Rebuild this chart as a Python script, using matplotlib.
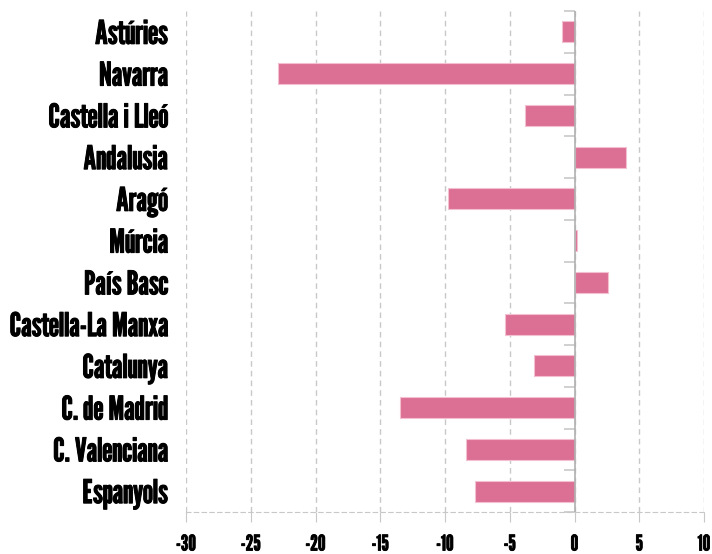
import matplotlib
matplotlib.use("Agg")
import matplotlib.pyplot as plt
from matplotlib import font_manager as fm
import matplotlib.patheffects as pe
import numpy as np

categories = ["Astúries", "Navarra", "Castella i Lleó", "Andalusia", "Aragó", "Múrcia",
              "País Basc", "Castella-La Manxa", "Catalunya", "C. de Madrid",
              "C. Valenciana", "Espanyols"]
values = [-1.0, -22.9, -3.8, 4.0, -9.8, 0.2, 2.6, -5.4, -3.1, -13.5, -8.4, -7.7]
xticks = [-30, -25, -20, -15, -10, -5, 0, 5, 10]

names = {f.name for f in fm.fontManager.ttflist}
fam = "DejaVu Sans"
for cand in ["League Gothic", "Oswald", "Pathway Gothic One", "Antonio", "Fjalla One", "Barlow Condensed"]:
    if cand in names:
        fam = cand
        break

fig = plt.figure(figsize=(7.12, 5.54), dpi=100)
ax = fig.add_axes([186/712, 42/554, (704-186)/712, (512-11)/554])

y = np.arange(len(categories))
ax.barh(y, values, height=0.5, color="#dc7094", edgecolor="#f2c0cf", linewidth=0.8, zorder=3)

ax.set_xlim(-30, 10)
ax.set_ylim(len(categories) - 0.5, -0.5)
ax.set_xticks(xticks)
ax.set_xticklabels([str(t) for t in xticks], fontfamily=fam, fontsize=15.5)
ax.set_yticks(y)
ax.set_yticklabels(categories, fontfamily=fam, fontsize=23.5)
ax.tick_params(axis="y", length=0, pad=13)
ax.tick_params(axis="x", length=7.2, color="#c8c8c8", pad=9)
for t in ax.xaxis.get_ticklines():
    t.set_linestyle((0, (3, 3)))
for lab in ax.get_yticklabels():
    lab.set_path_effects([pe.withStroke(linewidth=0.7, foreground="black")])
for lab in ax.get_xticklabels():
    lab.set_path_effects([pe.withStroke(linewidth=0.6, foreground="black")])

ax.grid(axis="x", color="#c8c8c8", linestyle=(0, (4, 3)), linewidth=1, zorder=0)
for s in ["left", "right", "top"]:
    ax.spines[s].set_visible(False)
ax.spines["bottom"].set_color("#c8c8c8")
ax.spines["bottom"].set_linestyle((0, (4, 3)))

ax.axvline(0, color="#b0b0b0", linewidth=1.2, zorder=4)
sec = ax.secondary_yaxis(30/40)
sec.set_yticks(np.arange(len(categories) + 1) - 0.5)
sec.set_yticklabels([])
sec.tick_params(axis="y", length=8, color="#c8c8c8", width=1.2, direction="in")
for s in sec.spines.values():
    s.set_visible(False)

fig.savefig("out.png", dpi=100)
